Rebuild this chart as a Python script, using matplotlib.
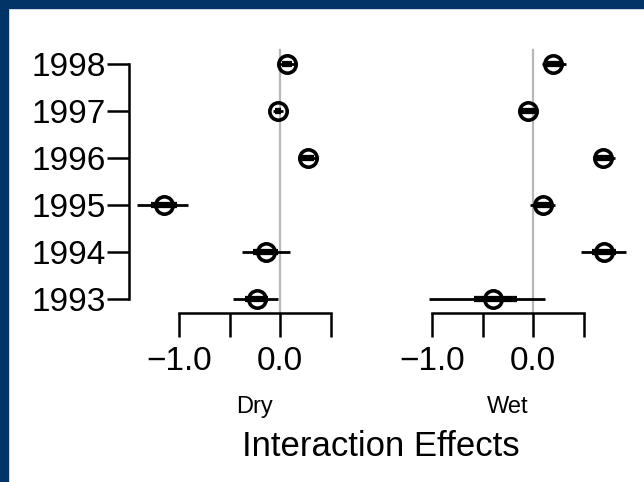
import numpy as np
import matplotlib.pyplot as plt
from matplotlib.patches import Rectangle

plt.rcParams['font.family'] = ['Liberation Sans', 'DejaVu Sans']

years = ['1993', '1994', '1995', '1996', '1997', '1998']

dry_est = [-0.23, -0.14, -1.15, 0.28, -0.02, 0.07]
dry_lo = [-0.47, -0.38, -1.42, 0.18, -0.07, -0.02]
dry_hi = [-0.02, 0.10, -0.91, 0.38, 0.03, 0.17]
dry_lo50 = [-0.35, -0.27, -1.28, 0.22, -0.05, 0.02]
dry_hi50 = [-0.12, -0.02, -1.02, 0.34, 0.01, 0.12]

wet_est = [-0.40, 0.70, 0.10, 0.69, -0.05, 0.20]
wet_lo = [-1.03, 0.48, -0.03, 0.59, -0.15, 0.09]
wet_hi = [0.12, 0.92, 0.22, 0.81, 0.05, 0.33]
wet_lo50 = [-0.58, 0.58, 0.02, 0.62, -0.12, 0.12]
wet_hi50 = [-0.16, 0.82, 0.18, 0.76, 0.02, 0.28]

panel_names = ['Dry', 'Wet']
xticks = [-1.0, -0.5, 0.0, 0.5]
xticklabels = ['\u22121.0', '', '0.0', '']

W, H = 644, 482
fig = plt.figure(figsize=(W / 100, H / 100), dpi=100)

# dark blue frame on top and left
fig.patches.append(Rectangle((0, 0), 8 / W, 1, transform=fig.transFigure,
                             color='#023468', zorder=0))
fig.patches.append(Rectangle((0, 1 - 7.5 / H), 1, 7.5 / H, transform=fig.transFigure,
                             color='#023468', zorder=0))

lw_spine = 1.8
panels = [(129, dry_est, dry_lo, dry_hi, dry_lo50, dry_hi50),
          (382, wet_est, wet_lo, wet_hi, wet_lo50, wet_hi50)]
y = np.arange(len(years))

for i, (left_px, est, lo, hi, lo50, hi50) in enumerate(panels):
    ax = fig.add_axes([left_px / W, (H - 313) / H, 251 / W, 268 / H])
    ax.set_facecolor('none')
    ax.set_xlim(-1.495, 0.990)
    ax.set_ylim(-0.298, 5.404)
    ax.plot([0, 0], [-0.298, 5.30], color='#b8b8b8', lw=1.6, zorder=1)
    ax.hlines(y, lo, hi, color='black', lw=2.0, zorder=2, clip_on=False)
    ax.hlines(y, lo50, hi50, color='black', lw=4.5, zorder=2, clip_on=False)
    ax.plot(est, y, 'o', ms=12.5, mfc='none', mec='black', mew=2.6, zorder=3,
            clip_on=False)

    for s in ['top', 'right']:
        ax.spines[s].set_visible(False)
    ax.spines['bottom'].set_bounds(-1.0, 0.5)
    ax.spines['bottom'].set_linewidth(lw_spine)
    ax.set_xticks(xticks)
    ax.set_xticklabels(xticklabels, fontsize=24)
    ax.tick_params(axis='x', length=17, width=lw_spine, pad=7)

    if i == 0:
        ax.spines['left'].set_bounds(0, 5)
        ax.spines['left'].set_linewidth(lw_spine)
        ax.set_yticks(y)
        ax.set_yticklabels(years, fontsize=24)
        ax.tick_params(axis='y', length=16, width=lw_spine, pad=1)
    else:
        ax.spines['left'].set_visible(False)
        ax.set_yticks([])

    fig.text((255 + (left_px - 129)) / W, 1 - 407 / H, panel_names[i],
             fontsize=17, ha='center', va='center')

fig.text(381 / W, 1 - 446 / H, 'Interaction Effects', fontsize=25,
         ha='center', va='center')

fig.savefig('out.png', dpi=100)
